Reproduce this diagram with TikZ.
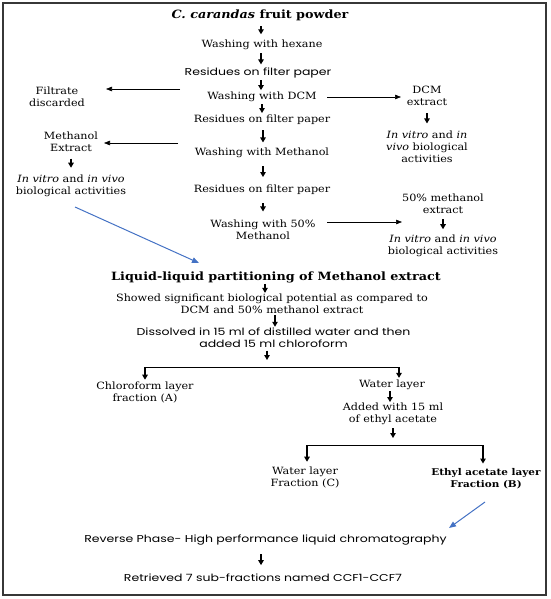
\documentclass[tikz,border=0pt]{standalone}
\usepackage{fontspec}
\setmainfont[FakeStretch=1.12]{DejaVu Serif}
\newfontfamily\gothic[FakeStretch=1.25]{Poppins}
\usetikzlibrary{arrows.meta,calc}
\definecolor{bluearrow}{RGB}{68,114,196}
\definecolor{frame}{RGB}{55,55,55}
\newcommand\myalen{5pt}
\begin{document}
\begin{tikzpicture}[x=1pt,y=-1pt,
  txt/.style={inner sep=1pt, align=center, font=\fontsize{10}{12}\selectfont},
  stxt/.style={inner sep=1pt, align=center, font=\gothic\fontsize{10}{12}\selectfont},
  btxt/.style={inner sep=1pt, align=center, font=\bfseries\fontsize{11.4}{13}\selectfont},
  bstxt/.style={inner sep=1pt, align=center, font=\bfseries\fontsize{9.3}{12}\selectfont},
  darrb/.style={-{Triangle[length=5pt,width=5.5pt]}, line width=1.1pt, black},
  alen/.code={\def\myalen{#1}},
  gap/.style={to path={
     let \p1=(\tikztostart.south), \p2=(\tikztotarget.north) in
     (\x1+#1, {(\y1+\y2)/2+\myalen}) -- (\x1+#1, {(\y1+\y2)/2-\myalen})}},
  gap/.default=0pt,
  harr/.style={-{Triangle[length=6pt,width=4.5pt]}, line width=0.6pt, black},
  barr/.style={-{Triangle[length=7pt,width=5.5pt]}, line width=1pt, bluearrow},
  hline/.style={line width=0.7pt, black},
  ]
\useasboundingbox (0,0) rectangle (550,599);
\draw[line width=1.6pt, frame] (3,3) rectangle (546,595);

% main chain
\node[btxt] (title) at (260,15) {\textit{C. carandas} fruit powder};
\node[txt] (n1) at (262,45) {Washing with hexane};
\node[stxt] (n2) at (258,73) {Residues on filter paper};
\node[txt] (n3) at (262,97) {Washing with DCM};
\node[txt] (n4) at (262,120) {Residues on filter paper};
\node[txt] (n5) at (262,153) {Washing with Methanol};
\node[txt] (n6) at (262,190) {Residues on filter paper};
\node[txt] (n7) at (263,230) {Washing with 50\%\\Methanol};

\draw[darrb, alen=4pt] (title) to[gap=1pt] (n1);
\draw[darrb, alen=5.5pt] (n1) to[gap=-1pt] (n2);
\draw[darrb, alen=5pt] (n2) to[gap=3pt] (n3);
\draw[darrb, alen=4.5pt] (n3) to[gap] (n4);
\draw[darrb, alen=6pt] (n4) to[gap=1pt] (n5);
\draw[darrb, alen=5.5pt] (n5) to[gap=1pt] (n6);
\draw[darrb, alen=4pt] (n6) to[gap=1pt] (n7);

% left side
\node[txt] (filt) at (57,97) {Filtrate\\discarded};
\coordinate (fdA) at (180,89);
\coordinate (fdB) at (106,89);
\draw[harr] (fdA) -- (fdB);

\node[txt] (meth) at (71,141.5) {Methanol\\Extract};
\coordinate (mA) at (178,143);
\coordinate (mB) at (104,143);
\draw[harr] (mA) -- (mB);
\node[txt] (methact) at (71,186) {\textit{In vitro} and \textit{in vivo}\\biological activities};
\draw[darrb, alen=4.5pt] (meth) to[gap] (methact);

% right side
\node[txt] (dcm) at (427,96) {DCM\\extract};
\coordinate (dA) at (327,97);
\coordinate (dB) at (401,97);
\draw[harr] (dA) -- (dB);
\node[txt] (dcmact) at (427,147) {\textit{In vitro} and \textit{in}\\\textit{vivo} biological\\activities};
\draw[darrb, alen=5pt] (dcm) to[gap] (dcmact);

\node[txt] (fifty) at (443,204) {50\% methanol\\extract};
\coordinate (fA) at (327,222);
\coordinate (fB) at (402,222);
\draw[harr] (fA) -- (fB);
\node[txt] (fiftyact) at (443,245.5) {\textit{In vitro} and \textit{in vivo}\\biological activities};
\draw[darrb, alen=5pt] (fifty) to[gap] (fiftyact);

% partitioning
\node[btxt] (lle) at (276,277) {Liquid-liquid partitioning of Methanol extract};
\coordinate (bA) at (75,207);
\coordinate (bB) at (199,263);
\draw[barr] (bA) -- (bB);
\node[txt] (showed) at (272,304) {Showed significant biological potential as compared to\\DCM and 50\% methanol extract};
\draw[darrb, alen=4.5pt] (lle) to[gap=-11pt] (showed);
\node[stxt] (diss) at (273.5,337.5) {Dissolved in 15 ml of distilled water and then\\added 15 ml chloroform};
\draw[darrb, alen=6pt] (showed) to[gap=3pt] (diss);

\coordinate (bL) at (145,367);
\coordinate (bR) at (399,367);
\draw[darrb, shorten <=2pt, shorten >=7pt] ([xshift=-6.5pt]diss.south) -- ([xshift=-6.5pt]diss.south |- bL);
\draw[hline] (bL) -- (bR);

\node[txt] (chl) at (145,392.5) {Chloroform layer\\fraction (A)};
\node[txt] (wl) at (392,385) {Water layer};
\draw[darrb, shorten >=1pt] (bL) -- (bL |- chl.north);
\draw[darrb, shorten >=1pt] (bR) -- (bR |- wl.north);

\node[txt] (added) at (393,414) {Added with 15 ml\\of ethyl acetate};
\draw[darrb, alen=5.5pt] (wl) to[gap=-2pt] (added);

\coordinate (cL) at (307,445);
\coordinate (cR) at (483,445);
\draw[darrb, shorten <=2pt, shorten >=7pt] (added) -- (added |- cL);
\draw[hline] (cL) -- (cR);

\node[txt] (wlc) at (305,477.5) {Water layer\\Fraction (C)};
\node[bstxt] (eth) at (486,479) {Ethyl acetate layer\\Fraction (B)};
\draw[darrb, shorten >=4pt] (cL) -- (cL |- wlc.north);
\draw[darrb, shorten >=4pt] (cR) -- (cR |- eth.north);

\node[stxt] (rp) at (265.5,540) {Reverse Phase- High performance liquid chromatography};
\coordinate (eA) at (485,502);
\coordinate (eB) at (449,528);
\draw[barr] (eA) -- (eB);

\node[stxt] (ret) at (263,578) {Retrieved 7 sub-fractions named CCF1-CCF7};
\draw[darrb, alen=5.5pt] (rp) to[gap=-4.5pt] (ret);
\end{tikzpicture}
\end{document}
